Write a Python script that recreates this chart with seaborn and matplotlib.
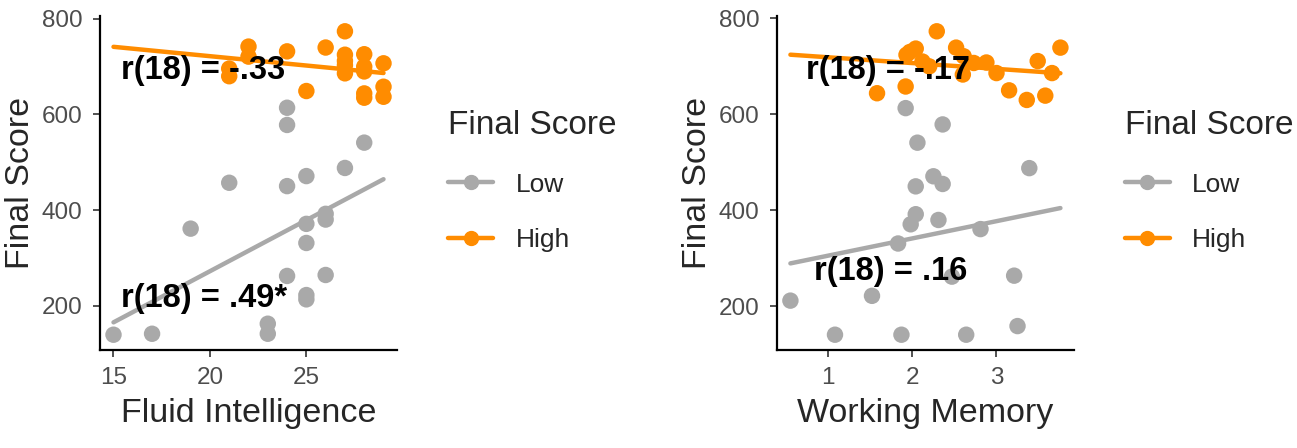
import numpy as np
import pandas as pd
import matplotlib
matplotlib.use("Agg")
import matplotlib.pyplot as plt
import seaborn as sns
from matplotlib.lines import Line2D

# groups and colours
groups = ["Low", "High"]
palette = {"Low": "#A9A9A9", "High": "#FF8C00"}

# Fluid Intelligence panel
fi_low_x = [15, 17, 19, 21, 23, 23, 24, 24, 24, 24, 25, 25, 25, 25, 25, 26, 26, 26, 27, 28]
fi_low_y = [139, 141, 361, 457, 162, 141, 614, 578, 450, 262, 471, 371, 331, 213, 222, 392, 380, 264, 488, 541]
fi_high_x = [21, 21, 22, 22, 24, 25, 26, 27, 27, 27, 27, 27, 28, 28, 28, 28, 28, 29, 29, 29]
fi_high_y = [680, 696, 742, 721, 732, 649, 740, 774, 725, 712, 703, 686, 726, 690, 700, 644, 635, 707, 658, 637]

# Working Memory panel
wm_low_x = [0.55, 1.08, 1.52, 1.83, 1.87, 1.92, 1.98, 2.04, 2.04, 2.06,
            2.25, 2.36, 2.36, 2.31, 2.47, 2.64, 2.81, 3.21, 3.25, 3.39]
wm_low_y = [212, 141, 222, 331, 141, 613, 371, 392, 450, 541,
            471, 455, 579, 380, 262, 141, 361, 264, 159, 488]
wm_high_x = [1.58, 1.92, 1.93, 1.97, 2.04, 2.12, 2.29, 2.52, 2.61, 2.60,
             2.73, 2.88, 3.00, 3.15, 3.36, 3.49, 3.58, 3.66, 3.76, 2.20]
wm_high_y = [644, 658, 724, 730, 737, 710, 773, 739, 721, 683,
             707, 708, 686, 650, 630, 711, 639, 686, 739, 700]

# correlation labels: (text, x, y)
fi_notes = [("r(18) = -.33", 15.38, 692), ("r(18) = .49*", 15.38, 215)]
wm_notes = [("r(18) = -.17", 0.74, 692), ("r(18) = .16", 0.83, 272)]


def make_df(lx, ly, hx, hy):
    return pd.DataFrame({
        "x": lx + hx,
        "y": ly + hy,
        "group": ["Low"] * len(lx) + ["High"] * len(hx),
    })


sns.set_theme(style="ticks")
plt.rcParams["font.family"] = ["Liberation Sans", "DejaVu Sans"]

fig = plt.figure(figsize=(12.97, 4.48), dpi=100)
ax1 = fig.add_axes([0.0771, 0.219, 0.229, 0.745])
ax2 = fig.add_axes([0.599, 0.219, 0.229, 0.745])


def panel(ax, df, xlabel, xticks, notes):
    xmin, xmax = df["x"].min(), df["x"].max()
    ymin, ymax = df["y"].min(), df["y"].max()
    ax.set_xlim(xmin, xmax)
    for g in groups:
        sub = df[df["group"] == g]
        sns.regplot(data=sub, x="x", y="y", ax=ax, scatter=False, ci=None,
                    truncate=False, color=palette[g], line_kws={"lw": 3.2})
    sns.scatterplot(data=df, x="x", y="y", hue="group", palette=palette,
                    s=140, edgecolor="none", legend=False, ax=ax, zorder=3)
    for txt, tx, ty in notes:
        ax.text(tx, ty, txt, ha="left", va="center", fontsize=23.5,
                fontweight="bold", color="black", zorder=5)
    dx = (xmax - xmin) * 0.05
    dy = (ymax - ymin) * 0.05
    ax.set_xlim(xmin - dx, xmax + dx)
    ax.set_ylim(ymin - dy, ymax + dy)
    ax.set_xticks(xticks)
    ax.set_yticks([200, 400, 600, 800])
    ax.set_xlabel(xlabel, fontsize=24.5, labelpad=6)
    ax.set_ylabel("Final Score", fontsize=24.5, labelpad=4)
    ax.tick_params(labelsize=17.5, labelcolor="#4D4D4D", length=5, width=1.2,
                   color="#333333", pad=7.5)
    sns.despine(ax=ax)
    for s in ["left", "bottom"]:
        ax.spines[s].set_linewidth(1.6)
        ax.spines[s].set_color("black")
    handles = [Line2D([0], [0], color=palette[g], lw=3.2, marker="o",
                      markersize=10) for g in groups]
    ax.legend(handles, groups, title="Final Score", frameon=False,
              loc="upper left", bbox_to_anchor=(1.092, 0.79),
              fontsize=19, title_fontsize=24, alignment="left",
              handlelength=1.7, labelspacing=1.2, handletextpad=0.85)


panel(ax1, make_df(fi_low_x, fi_low_y, fi_high_x, fi_high_y),
      "Fluid Intelligence", [15, 20, 25], fi_notes)
panel(ax2, make_df(wm_low_x, wm_low_y, wm_high_x, wm_high_y),
      "Working Memory", [1, 2, 3], wm_notes)

fig.savefig("out.png", dpi=100)
